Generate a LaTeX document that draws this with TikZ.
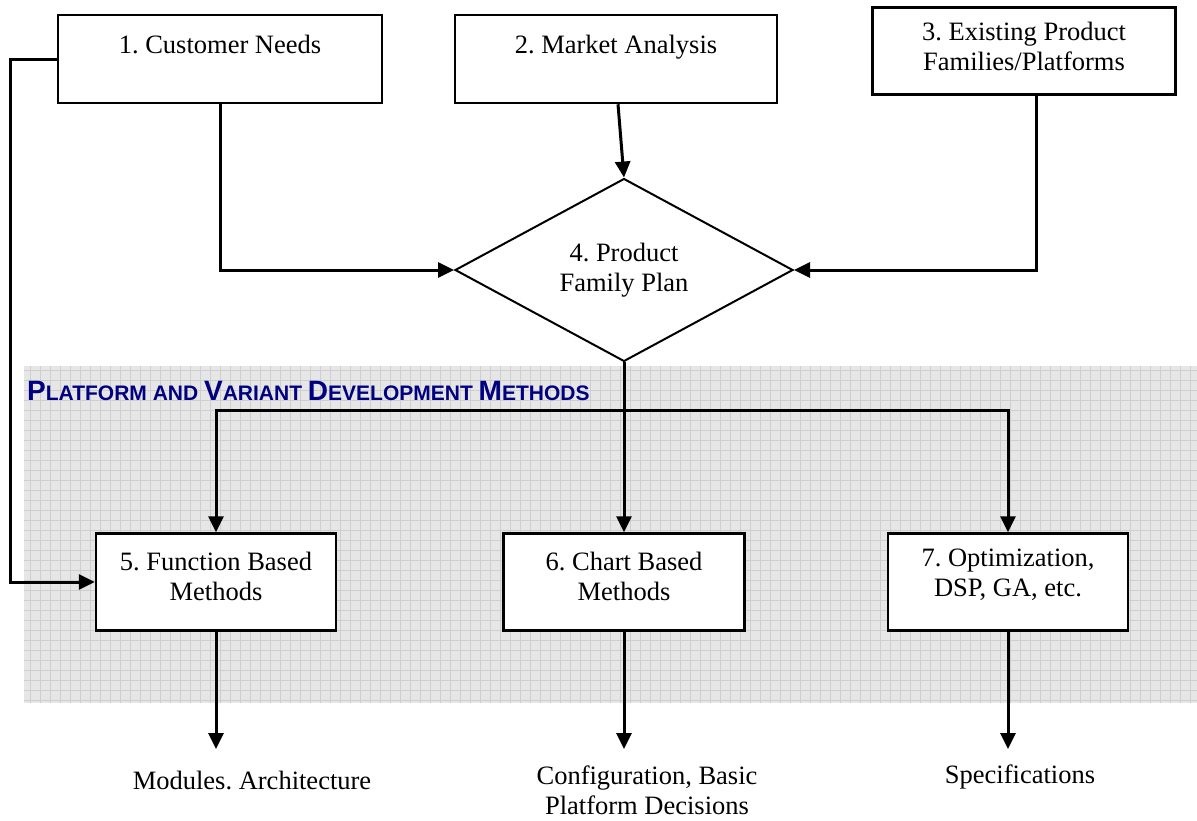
\documentclass[tikz,border=0pt]{standalone}
\usepackage{fontspec}
\setmainfont{Liberation Serif}
\newfontfamily\headfont{Liberation Sans}
\usetikzlibrary{arrows.meta,shapes.geometric,calc}
\definecolor{navy}{RGB}{0,0,128}
\definecolor{gridfill}{RGB}{230,230,230}
\definecolor{gridline}{RGB}{206,206,206}
% enlarged initial letter for the small-caps heading
\newcommand\initcap[1]{{\fontsize{28}{28}\selectfont #1}}
\frenchspacing

\begin{document}
\begin{tikzpicture}[x=1pt,y=-1pt,
  every node/.style={font=\fontsize{26.5}{30}\selectfont},
  stepbox/.style={draw, line width=2.5pt, fill=white, align=center, inner sep=0pt},
  decision/.style={draw, diamond, line width=2pt, fill=white, align=center,
    inner sep=0pt, minimum width=338pt, minimum height=143pt},
  flow/.style={line width=3pt, line join=miter, -{Triangle[length=16pt,width=15pt]}},
  link/.style={line width=3pt, line join=miter},
  outcome/.style={align=center, inner sep=0pt},
  heading/.style={anchor=base west, inner sep=0pt, text=navy,
    font=\headfont\bfseries\fontsize{21}{21}\selectfont},
]
\useasboundingbox (0,0) rectangle (1197,820);

% gridded backdrop of the method section
\fill[gridfill] (24,366) rectangle (1197,703);
\foreach \x in {30,40,...,1190} \draw[gridline, line width=0.8pt] (\x,366) -- (\x,703);
\foreach \y in {370,380,...,700} \draw[gridline, line width=0.8pt] (24,\y) -- (1197,\y);

\node[heading] (title) at (27,400)
  {\initcap{P}LATFORM AND \initcap{V}ARIANT \initcap{D}EVELOPMENT \initcap{M}ETHODS};

% inputs
\node[stepbox, minimum width=324pt, minimum height=88pt] (b1) at (220,59)
  {1. Customer Needs\\[-10pt]\strut};
\node[stepbox, minimum width=322pt, minimum height=88pt] (b2) at (616,59)
  {2. Market Analysis\\[-10pt]\strut};
\node[stepbox, minimum width=303pt, minimum height=87pt] (b3) at (1024,51)
  {3. Existing Product\\Families/Platforms\\[-20pt]\mbox{}};

% plan
\node[decision] (d) at (624,270) {4. Product\\Family Plan};

% methods
\node[stepbox, minimum width=240pt, minimum height=97pt] (b5) at (216,582)
  {5. Function Based\\Methods\\[-18pt]\mbox{}};
\node[stepbox, minimum width=241pt, minimum height=97pt] (b6) at (624,582)
  {6. Chart Based\\Methods\\[-18pt]\mbox{}};
\node[stepbox, minimum width=240pt, minimum height=97pt] (b7) at (1008,582)
  {7. Optimization,\\DSP, GA, etc.\\[-12pt]\mbox{}};

% results
\node[outcome] (o5) at (252,780) {Modules. Architecture};
\node[outcome] (o6) at (647,790) {Configuration, Basic\\Platform Decisions};
\node[outcome] (o7) at (1020,777) {Specifications};

\coordinate (bus) at (624,410);
\coordinate (e5) at (216,749);
\coordinate (e6) at (624,749);
\coordinate (e7) at (1008,749);

% connectors
\draw[flow] (b1.south) |- (d.west);
\draw[flow] ([xshift=2pt]b2.south) -- (d.north);
\draw[flow] ([xshift=12pt]b3.south) |- (d.east);
\draw[flow] (b1.west) -- ++(-46,0) |- (b5.west);
\draw[link] (d.south) -- (bus);
\draw[flow] (bus) -| (b5.north);
\draw[flow] (bus) -| (b7.north);
\draw[flow] (bus) -- (b6.north);
\draw[flow] (b5.south) -- (e5);
\draw[flow] (b6.south) -- (e6);
\draw[flow] (b7.south) -- (e7);
\end{tikzpicture}
\end{document}
